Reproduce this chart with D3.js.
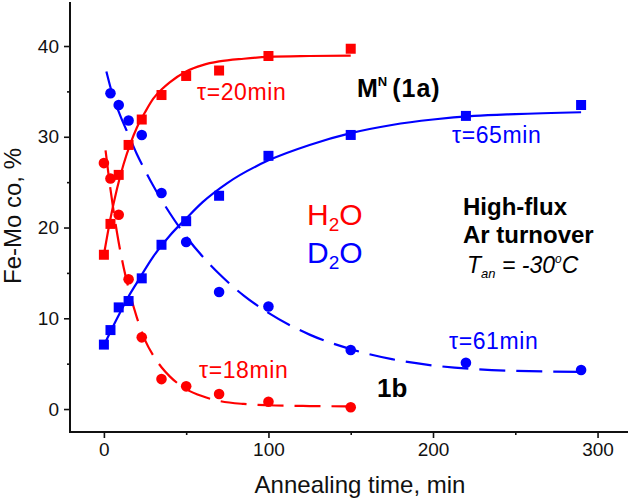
<!DOCTYPE html>
<html>
<head>
<meta charset="utf-8">
<script src="https://cdnjs.cloudflare.com/ajax/libs/d3/7.8.5/d3.min.js"></script>
<style>
  html, body { margin: 0; padding: 0; background: #fff; }
  svg text { font-family: "Liberation Sans", Arial, Helvetica, sans-serif; }
</style>
</head>
<body>
<svg id="chart" width="631" height="499"></svg>
<script>
// ---- data ----
const h2oSquareT = [0, 4, 9, 15, 23, 35, 50, 70, 100, 150];
const h2oSquareV = [17.0, 20.4, 25.8, 29.1, 31.9, 34.6, 36.7, 37.3, 38.9, 39.7];
const h2oCircleT = [0, 4, 9, 15, 23, 35, 50, 70, 100, 150];
const h2oCircleV = [27.1, 25.4, 21.4, 14.3, 7.9, 3.3, 2.5, 1.65, 0.8, 0.2];
const d2oSquareT = [0, 4, 9, 15, 23, 35, 50, 70, 100, 150, 220, 290];
const d2oSquareV = [7.1, 8.7, 11.2, 11.9, 14.4, 18.1, 20.7, 23.5, 27.9, 30.2, 32.3, 33.5];
const d2oCircleT = [4, 9, 15, 23, 35, 50, 70, 100, 150, 220, 290];
const d2oCircleV = [34.8, 33.5, 31.8, 30.2, 23.8, 18.4, 12.9, 11.3, 6.5, 5.1, 4.3];

// fitted curves
const h2oRiseT = [0, 4, 8, 12, 16, 20, 25, 30, 35, 40, 50, 60, 70, 85, 100, 125, 150];
const h2oRiseV = [17.0, 21.0, 24.3, 27.0, 29.2, 31.0, 32.7, 34.2, 35.2, 36.0, 37.2, 37.9, 38.3, 38.6, 38.8, 38.9, 38.95];
const h2oDecayT = [1, 4, 8, 12, 15, 20, 25, 30, 35, 40, 50, 60, 70, 85, 100, 125, 150];
const h2oDecayV = [28.5, 24.2, 19.4, 15.6, 13.3, 10.1, 7.6, 5.9, 4.6, 3.6, 2.2, 1.4, 0.9, 0.56, 0.42, 0.33, 0.3];
const d2oRiseT = [0, 5, 10, 15, 20, 30, 40, 50, 60, 75, 100, 125, 150, 175, 200, 225, 250, 290];
const d2oRiseV = [7.0, 8.9, 10.7, 12.4, 13.9, 16.8, 19.1, 21.0, 22.8, 24.9, 27.4, 29.1, 30.4, 31.3, 31.9, 32.3, 32.5, 32.7];
const d2oDecayT = [1.5, 5, 10, 15, 20, 25, 30, 40, 50, 60, 70, 85, 100, 125, 150, 175, 200, 225, 250, 290];
const d2oDecayV = [37.2, 34.8, 32.3, 30.2, 28.1, 26.3, 24.6, 21.6, 19.0, 16.8, 14.9, 12.5, 10.6, 8.2, 6.6, 5.5, 4.8, 4.4, 4.2, 4.1];

const xMajor = [0, 100, 200, 300];
const xMinor = [50, 150, 250];
const yMajor = [0, 10, 20, 30, 40];
const yMinor = [5, 15, 25, 35];

const RED = "#ff0000";
const BLUE = "#0000ff";

// ---- scales ----
const svg = d3.select("#chart");
const x = d3.scaleLinear().domain([-20.6, 318.5]).range([70, 628]);
const y = d3.scaleLinear().domain([-2.53, 44.85]).range([432, 2]);

// ---- axes ----
const xAxis = d3.axisBottom(x).tickValues(xMajor).tickSize(6).tickPadding(5).tickFormat(d3.format("d"));
const xAxisMinor = d3.axisBottom(x).tickValues(xMinor).tickSize(3).tickFormat("");
const yAxis = d3.axisLeft(y).tickValues(yMajor).tickSize(6).tickPadding(5).tickFormat(d3.format("d"));
const yAxisMinor = d3.axisLeft(y).tickValues(yMinor).tickSize(3).tickFormat("");

function styleAxis(g) {
  g.selectAll("path.domain").remove();
  g.selectAll(".tick line").attr("stroke", "#111").attr("stroke-width", 1.6);
  g.selectAll(".tick text").attr("fill", "#111").style("font-size", "19px")
    .style("font-family", '"Liberation Sans", Arial, sans-serif');
}
svg.append("g").attr("transform", "translate(0,432)").call(xAxisMinor).call(styleAxis);
svg.append("g").attr("transform", "translate(0,432)").call(xAxis).call(styleAxis);
svg.append("g").attr("transform", "translate(70,0)").call(yAxisMinor).call(styleAxis);
svg.append("g").attr("transform", "translate(70,0)").call(yAxis).call(styleAxis);
// axis lines spanning the full scale ranges
svg.append("line").attr("x1", x.range()[0]).attr("x2", x.range()[1]).attr("y1", 432).attr("y2", 432)
  .attr("stroke", "#111").attr("stroke-width", 2);
svg.append("line").attr("x1", 70).attr("x2", 70).attr("y1", y.range()[0] + 1).attr("y2", y.range()[1])
  .attr("stroke", "#111").attr("stroke-width", 2);

// ---- curves ----
const line = d3.line().x(d => x(d[0])).y(d => y(d[1])).curve(d3.curveMonotoneX);
const zip = (a, b) => a.map((v, i) => [v, b[i]]);

svg.append("path").datum(zip(h2oRiseT, h2oRiseV)).attr("d", line)
  .attr("fill", "none").attr("stroke", RED).attr("stroke-width", 2.2);
svg.append("path").datum(zip(h2oDecayT, h2oDecayV)).attr("d", line)
  .attr("fill", "none").attr("stroke", RED).attr("stroke-width", 2.2).attr("stroke-dasharray", "26,11");
svg.append("path").datum(zip(d2oRiseT, d2oRiseV)).attr("d", line)
  .attr("fill", "none").attr("stroke", BLUE).attr("stroke-width", 2.2);
svg.append("path").datum(zip(d2oDecayT, d2oDecayV)).attr("d", line)
  .attr("fill", "none").attr("stroke", BLUE).attr("stroke-width", 2.2).attr("stroke-dasharray", "26,11");

// ---- markers ----
const S = 10;
function squares(T, V, color) {
  svg.append("g").selectAll("rect").data(zip(T, V)).join("rect")
    .attr("x", d => x(d[0]) - S / 2).attr("y", d => y(d[1]) - S / 2)
    .attr("width", S).attr("height", S).attr("fill", color);
}
function circles(T, V, color) {
  svg.append("g").selectAll("circle").data(zip(T, V)).join("circle")
    .attr("cx", d => x(d[0])).attr("cy", d => y(d[1])).attr("r", 5.3).attr("fill", color);
}
squares(h2oSquareT, h2oSquareV, RED);
circles(h2oCircleT, h2oCircleV, RED);
squares(d2oSquareT, d2oSquareV, BLUE);
circles(d2oCircleT, d2oCircleV, BLUE);

// ---- axis titles ----
svg.append("text").attr("x", 360).attr("y", 493).attr("text-anchor", "middle")
  .style("font-size", "24px").attr("fill", "#111").text("Annealing time, min");
svg.append("text").attr("transform", "translate(21,216) rotate(-90)").attr("text-anchor", "middle")
  .style("font-size", "24px").attr("fill", "#111").text("Fe-Mo co, %");

// ---- annotations ----
function label(px, py, txt, color, size, weight, style) {
  return svg.append("text").attr("x", px).attr("y", py).attr("fill", color)
    .style("font-size", size + "px").style("font-weight", weight || "normal")
    .style("font-style", style || "normal").text(txt);
}
function tauLabel(px, py, txt, color) {
  return label(px, py, txt, color, 23).style("letter-spacing", "0.6px");
}
tauLabel(197, 100, "τ=20min", RED);
tauLabel(199, 378, "τ=18min", RED);
tauLabel(452, 143, "τ=65min", BLUE);
tauLabel(449, 349, "τ=61min", BLUE);
label(377, 397, "1b", "#000", 26, "bold");

const mn = label(357, 97, "M", "#000", 25, "bold");
mn.append("tspan").attr("dy", -11).style("font-size", "13px").text("N");
mn.append("tspan").attr("dy", 11).attr("dx", 5).style("letter-spacing", "1px").text("(1a)");

const h2o = label(307, 225, "H", RED, 30);
h2o.append("tspan").attr("dy", 6).style("font-size", "19px").text("2");
h2o.append("tspan").attr("dy", -6).text("O");
const d2o = label(307, 263, "D", BLUE, 30);
d2o.append("tspan").attr("dy", 6).style("font-size", "19px").text("2");
d2o.append("tspan").attr("dy", -6).text("O");

label(463, 215, "High-flux", "#000", 24, "bold");
label(463, 243, "Ar turnover", "#000", 24, "bold");
const tan = label(467, 273, "T", "#000", 23, "normal", "italic");
tan.append("tspan").attr("dy", 5).style("font-size", "13px").text("an");
tan.append("tspan").attr("dy", -5).text(" = -30");
tan.append("tspan").attr("dy", -10).style("font-size", "12px").text("o");
tan.append("tspan").attr("dy", 10).text("C");
</script>
</body>
</html>
